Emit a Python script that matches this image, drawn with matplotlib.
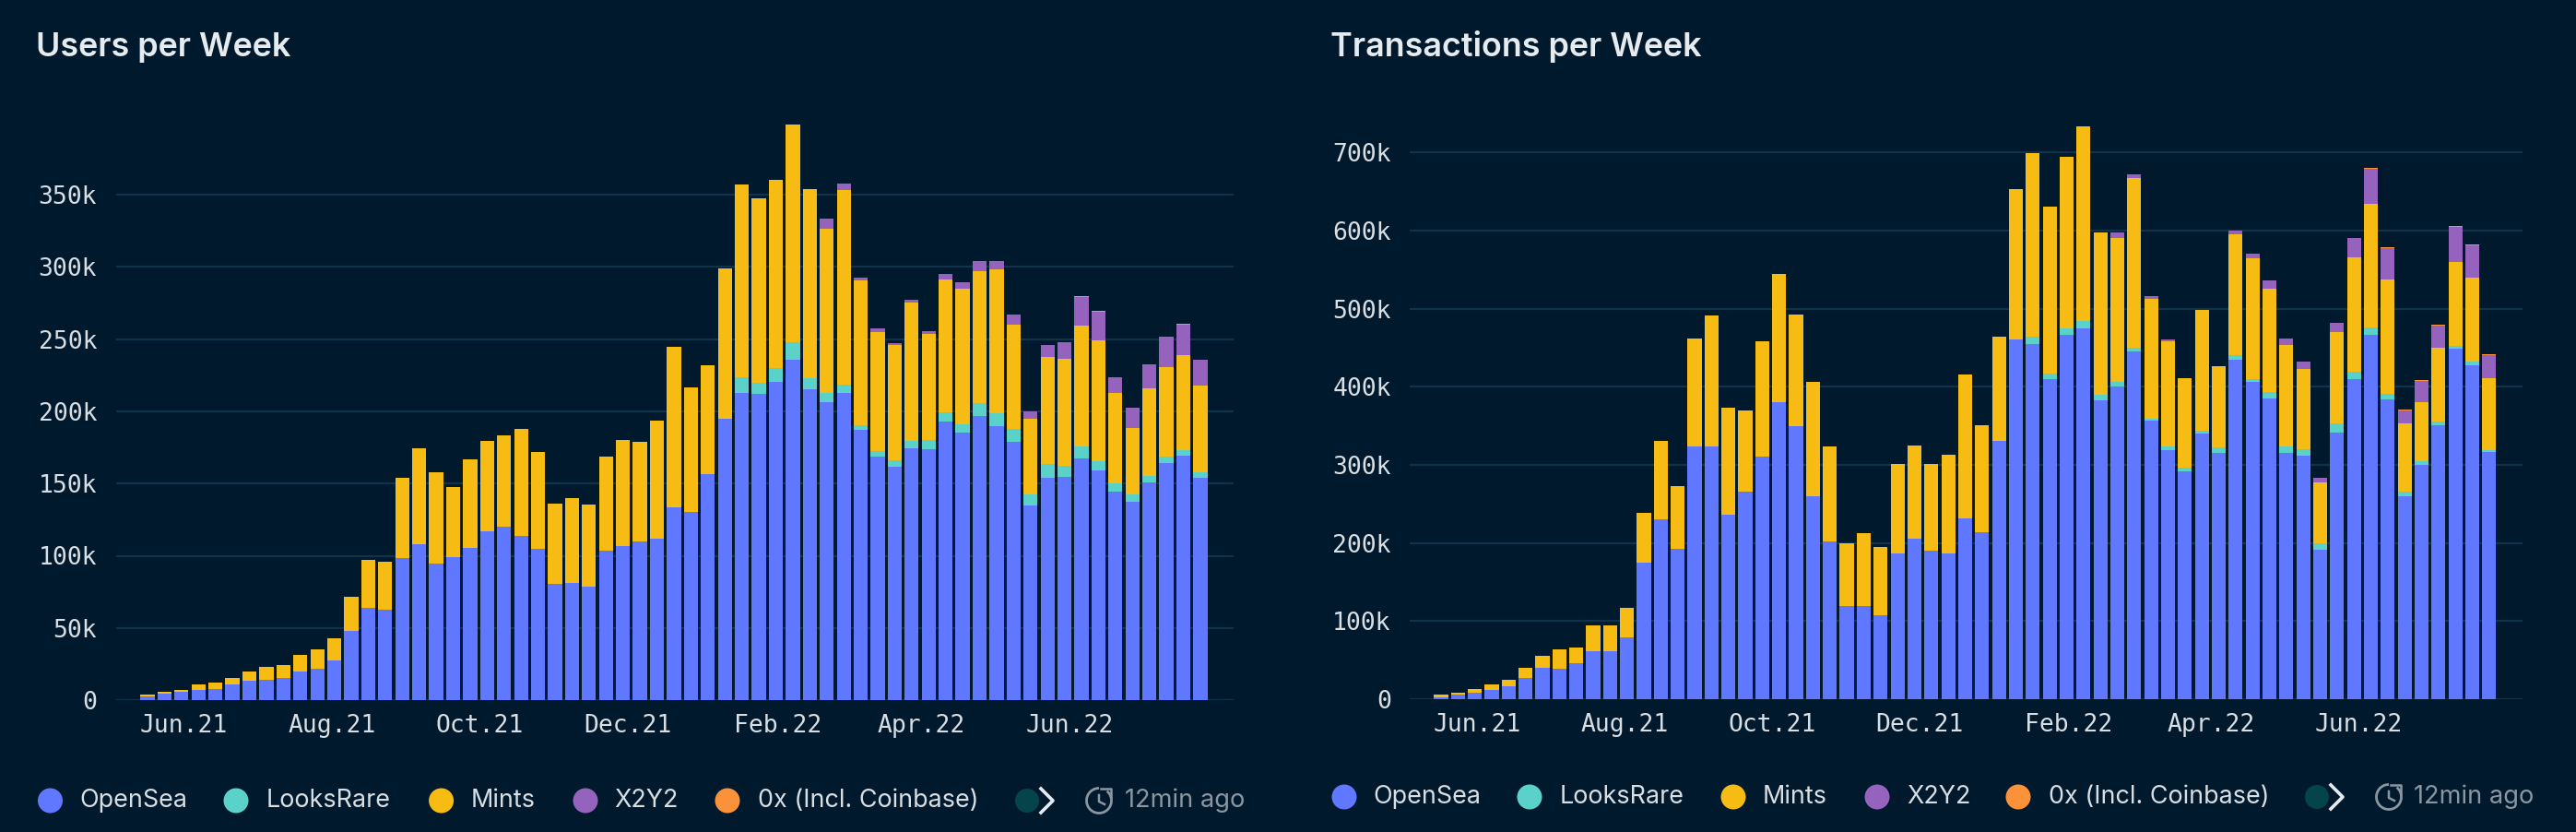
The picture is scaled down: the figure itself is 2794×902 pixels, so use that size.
import matplotlib
matplotlib.use("Agg")
import matplotlib.pyplot as plt
import matplotlib.dates as mdates
from matplotlib.patches import Circle, Arc
from matplotlib.ticker import FuncFormatter
import numpy as np
import pandas as pd

# Week starts, values in thousands
weeks = pd.date_range("2021-05-17", periods=63, freq="W-MON")
tick_dates = pd.to_datetime(["2021-06-01", "2021-08-01", "2021-10-01", "2021-12-01",
                             "2022-02-01", "2022-04-01", "2022-06-01"])

users_opensea = [2.6, 4.4, 5.9, 7, 7.9, 10.6, 13.2, 14, 15.2, 20, 22, 27.3, 47.8, 63.6, 62.8, 98.5,
                 107.9, 94.7, 99.1, 105.3, 117, 119.9, 113.5, 104.7, 80.4, 80.9, 78.9, 103.2, 106.7, 109.7, 111.7, 133.4,
                 130.2, 156.3, 194.7, 212.9, 212, 220.5, 236.1, 215.2, 206.7, 212.9, 187.1, 168.6, 161.9, 174.5, 173.6, 193.2,
                 185.6, 197, 189.7, 178.9, 134.9, 153.9, 154.5, 167.7, 158.9, 144.6, 137.2, 150.7, 164.5, 169.5, 154.2]
users_looksrare = [0] * 35 + [10.6, 7.6, 9.4, 11.7, 7.6, 6.2, 5.9, 3.5, 4.1, 4.4, 5.3, 6.5, 6.2, 5.3, 8.8, 9.1, 8.8,
                              7.9, 9.7, 7.6, 7.9, 6.5, 5.3, 5, 4.4, 4.4, 3.5, 3.5]
users_mints = [1.2, 1.5, 1.1, 3.9, 4.4, 4.9, 6.4, 8.9, 8.8, 11.4, 12.9, 15.7, 23.5, 33.4, 33.1, 55.2,
               66.3, 63.1, 48.7, 61.3, 62.5, 63.7, 74.5, 67.5, 55.6, 59.3, 56.3, 65.7, 73.3, 68.9, 81.8, 111.5,
               86.5, 75.4, 104.4, 133.4, 127.9, 130.2, 150.7, 131.5, 113.5, 134.6, 100, 82.4, 79.7, 95.9, 73.6, 92.1,
               94.4, 91.2, 99.7, 72.3, 52.2, 74.2, 74.6, 83.6, 83.9, 62.7, 46.1, 60.7, 61.6, 66, 59.9]
users_x2y2 = [0] * 40 + [7, 4.4, 1.8, 2.1, 1.5, 1.4, 1.7, 3.5, 4.4, 7, 5.9, 6.9, 5.3, 7.9, 11.1, 20.3, 19.6, 10.9, 14,
                         16.8, 21.1, 21.1, 17.9]
users_0x = [0] * 55 + [0.6, 0.6, 0.4, 0.4, 0.3, 0.3, 0.6, 0.6]

tx_opensea = [2.7, 5.4, 8.7, 11.9, 16.8, 26.6, 40.1, 38.5, 46.1, 61.3, 61.3, 78.6, 174.6, 230.4, 191.9, 323.2,
              323.2, 236.4, 265.7, 310.1, 380.6, 349.7, 260.3, 201.7, 119.8, 119.8, 107.9, 187.1, 205, 190.3, 187, 232,
              214.2, 330.7, 460.9, 454.9, 409.4, 466.3, 474.4, 382.3, 400.1, 445.2, 356.2, 318.8, 291.7, 340, 315.6, 434.8,
              406.1, 384.4, 315, 312.3, 191.4, 341, 409.9, 466.8, 383.9, 259.7, 299.8, 350.8, 448.4, 427.3, 316.1]
tx_looksrare = [0] * 35 + [8.7, 7, 8.1, 10.3, 7, 5.5, 4.3, 2.7, 4.4, 4.3, 3.8, 6.5, 5.5, 3.8, 8.7, 8.2, 8.1,
                           8.1, 12, 9.2, 8.7, 7, 5.4, 4.4, 4.9, 4.3, 4.8, 3.3]
tx_mints = [2.7, 3.3, 3.8, 7.1, 8.1, 13.5, 15.2, 25.5, 20, 33.6, 33.6, 38.5, 63.4, 100.3, 80.8, 138.2,
            168, 137.2, 103.5, 147.5, 163.2, 142.6, 145.3, 122, 80.3, 93.3, 87.3, 113.8, 120.3, 110.6, 126.4, 183.9,
            136.6, 133.4, 192.4, 235.4, 213.6, 219.6, 248.9, 208.2, 184.3, 217.4, 154, 135.5, 115.5, 153.9, 104.6, 154.5,
            154.5, 132.8, 130.6, 102, 78.1, 117.1, 146.9, 158.9, 145.9, 87.9, 76.4, 94.3, 107.4, 107.4, 92.1]
tx_x2y2 = [0] * 40 + [7.6, 5.4, 3.3, 2.2, 0, 0, 0, 5.4, 6.5, 9.8, 8.2, 9.2, 5.4, 11.9, 23.9, 45, 40.6, 16.2, 27.1,
                      28.8, 44.5, 41.2, 29.3]
tx_0x = [0] * 55 + [1, 1, 1, 0.6, 0.6, 0.6, 1, 1]

legend_names = ["OpenSea", "LooksRare", "Mints", "X2Y2", "0x (Incl. Coinbase)"]
colors = ["#6077ff", "#5ad1c9", "#f6bc14", "#9562bd", "#fb9139"]

BG = "#01192c"
GRID = "#10324a"
W, H = 2794, 902


def px_axes(fig, left, top, right, bottom):
    return fig.add_axes([left / W, 1 - bottom / H, (right - left) / W, (bottom - top) / H])


def stacked_weeks(ax, series, xlim_days, ymax, yticks):
    x = mdates.date2num(weeks)
    base = np.zeros(len(x))
    for values, color in zip(series, colors):
        ax.bar(x, values, width=5.8, bottom=base, color=color, linewidth=0, zorder=3)
        base += np.array(values)

    ax.set_facecolor(BG)
    ax.set_xlim(x[0] + xlim_days[0], x[0] + xlim_days[1])
    ax.set_ylim(0, ymax)
    ax.set_yticks(yticks)
    ax.yaxis.set_major_formatter(FuncFormatter(lambda v, pos: "0" if v == 0 else f"{v:.0f}k"))
    ax.set_xticks(mdates.date2num(tick_dates))
    ax.xaxis.set_major_formatter(mdates.DateFormatter("%b.%y"))
    ax.grid(axis="y", color=GRID, linewidth=1.6, zorder=0)
    ax.tick_params(axis="both", length=0, labelsize=19, labelcolor="#d8dfe4")
    ax.tick_params(axis="y", pad=15)
    ax.tick_params(axis="x", pad=11)
    for label in ax.get_xticklabels() + ax.get_yticklabels():
        label.set_family("DejaVu Sans Mono")
    for spine in ax.spines.values():
        spine.set_visible(False)


def footer(overlay, title, title_x, y, dots, texts, fade_x, clock_x, ago_x):
    overlay.text(title_x, 51, title, color="#e6ebef", fontsize=25.9, fontweight="semibold",
                 family="Inter", va="center", ha="left")
    for name, color, dot_x, text_x in zip(legend_names, colors, dots, texts):
        overlay.add_patch(Circle((dot_x, y), 13.5, color=color, linewidth=0))
        overlay.text(text_x, y, name, color="#d8dfe4", fontsize=19.4, family="Inter", va="center", ha="left")

    # scroll arrow of the legend
    overlay.add_patch(Circle((fade_x, y), 13, color="#06444c", linewidth=0))
    overlay.plot([fade_x + 15, fade_x + 28, fade_x + 15], [y - 13, y, y + 13], color="#e6ebef", linewidth=2.6)

    # refresh clock and age
    grey = "#8a97a3"
    overlay.add_patch(Arc((clock_x, y), 27, 27, theta1=-50, theta2=270, color=grey, linewidth=2))
    overlay.plot([clock_x, clock_x, clock_x + 6], [y - 6, y + 1, y + 4], color=grey, linewidth=1.8)
    overlay.plot([clock_x + 2, clock_x + 13, clock_x + 13], [y - 13, y - 13, y - 4], color=grey, linewidth=1.8)
    overlay.text(ago_x, y, "12min ago", color=grey, fontsize=19.6, family="Inter", va="center", ha="left")


fig = plt.figure(figsize=(W / 100, H / 100), dpi=100, facecolor=BG)

ax_users = px_axes(fig, 126, 130, 1338, 759)
stacked_weeks(ax_users, [users_opensea, users_looksrare, users_mints, users_x2y2, users_0x],
              (-12.9, 447.7), (759 - 130) / 1.565, range(0, 351, 50))

ax_tx = px_axes(fig, 1529.5, 130, 2736, 758)
stacked_weeks(ax_tx, [tx_opensea, tx_looksrare, tx_mints, tx_x2y2, tx_0x],
              (-12.8, 447.8), (758 - 130) / 0.8469, range(0, 701, 100))

# Titles and legends are placed in figure pixels
overlay = fig.add_axes([0, 0, 1, 1], zorder=5)
overlay.set_xlim(0, W)
overlay.set_ylim(H, 0)
overlay.axis("off")

footer(overlay, "Users per Week", 39, 868, [54.5, 256, 478.6, 635, 789], [86, 289, 511, 666, 822], 1114, 1192, 1220)
footer(overlay, "Transactions per Week", 1443, 864, [1458, 1659, 1880, 2036, 2189], [1489, 1692, 1912, 2068, 2222],
       2513, 2591, 2618)

fig.savefig("out.png", dpi=100, facecolor=BG)
